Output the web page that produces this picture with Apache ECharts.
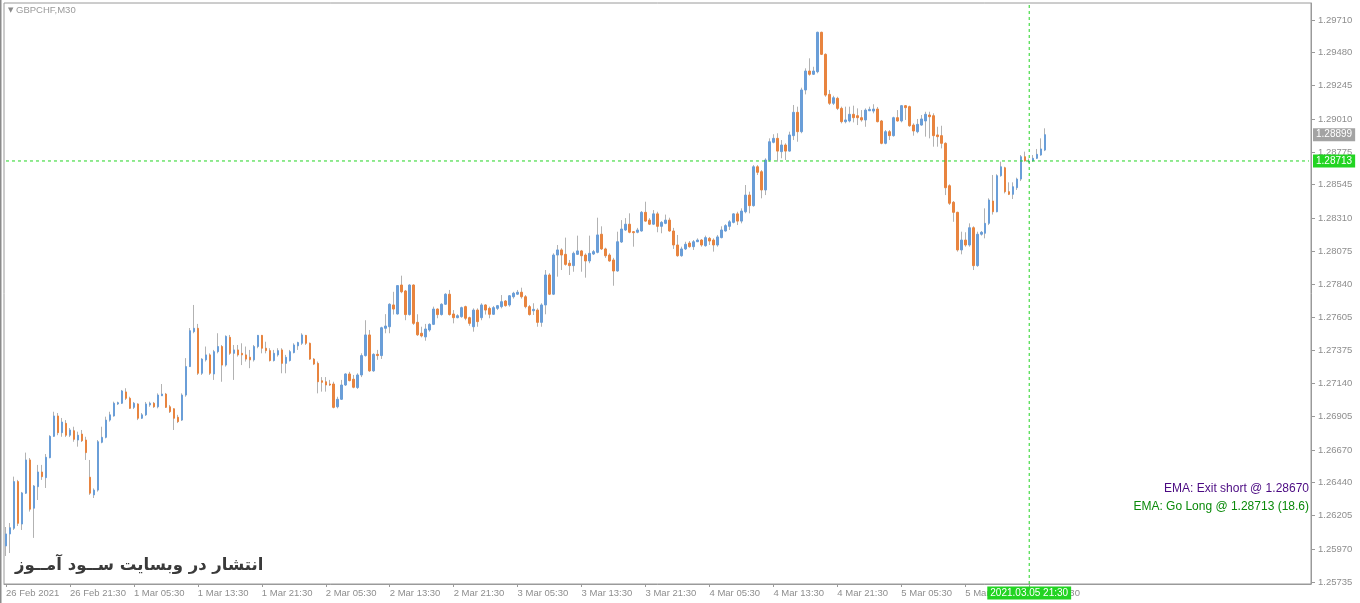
<!DOCTYPE html>
<html><head><meta charset="utf-8">
<script src="https://cdn.jsdelivr.net/npm/echarts@6/dist/echarts.min.js"></script>
<style>html,body{margin:0;padding:0;background:#fff}#c{width:1360px;height:603px}</style>
</head><body><div id="c"></div>
<script>
const symbolName = 'GBPCHF,M30';
const xTickLabels = ['26 Feb 2021','26 Feb 21:30','1 Mar 05:30','1 Mar 13:30','1 Mar 21:30','2 Mar 05:30','2 Mar 13:30','2 Mar 21:30','3 Mar 05:30','3 Mar 13:30','3 Mar 21:30','4 Mar 05:30','4 Mar 13:30','4 Mar 21:30','5 Mar 05:30','5 Mar 13:30','5 Mar 21:30'];
const barsPerLabel = 16;
const yTicks = [1.25735,1.25970,1.26205,1.26440,1.26670,1.26905,1.27140,1.27375,1.27605,1.27840,1.28075,1.28310,1.28545,1.28775,1.29010,1.29245,1.29480,1.29710];
const yMin = 1.25722, yMax = 1.29830;
const slotCount = 327;
const crossIndex = 256;
const crossPrice = 1.28713;
const crossTime = '2021.03.05 21:30';
const bidPrice = 1.28899;
const emaLines = ['EMA: Exit short @ 1.28670', 'EMA: Go Long @ 1.28713 (18.6)'];
const watermark = 'انتشار در وبسایت ســود آمــوز';
// [open, close, low, high]
const candles = [
[1.25991,1.26076,1.25920,1.26125],[1.26076,1.26120,1.25941,1.26153],[1.26116,1.26446,1.26104,1.26481],[1.26446,1.26151,1.26132,1.26458],
[1.26146,1.26366,1.26104,1.26373],[1.26364,1.26599,1.26359,1.26651],[1.26599,1.26251,1.26234,1.26613],[1.26258,1.26415,1.26048,1.26422],
[1.26410,1.26514,1.26316,1.26564],[1.26514,1.26481,1.26458,1.26564],[1.26474,1.26618,1.26401,1.26641],[1.26615,1.26766,1.26611,1.26774],
[1.26766,1.26910,1.26763,1.26940],[1.26910,1.26792,1.26774,1.26931],[1.26792,1.26867,1.26763,1.26896],[1.26858,1.26774,1.26761,1.26881],
[1.26774,1.26811,1.26761,1.26825],[1.26806,1.26745,1.26728,1.26834],[1.26740,1.26774,1.26693,1.26799],[1.26782,1.26735,1.26726,1.26811],
[1.26740,1.26651,1.26599,1.26763],[1.26477,1.26364,1.26352,1.26599],[1.26352,1.26386,1.26330,1.26398],[1.26386,1.26728,1.26375,1.26740],
[1.26724,1.26759,1.26717,1.26834],[1.26759,1.26881,1.26752,1.26905],[1.26881,1.26918,1.26870,1.26940],[1.26910,1.27000,1.26905,1.27011],
[1.26995,1.27004,1.26988,1.27011],[1.27000,1.27087,1.26995,1.27094],[1.27080,1.27035,1.27023,1.27106],[1.27035,1.26964,1.26961,1.27046],
[1.26971,1.27000,1.26959,1.27009],[1.26995,1.26894,1.26881,1.27000],[1.26894,1.26918,1.26889,1.26931],[1.26918,1.26995,1.26910,1.27009],
[1.26988,1.27000,1.26975,1.27011],[1.27000,1.26975,1.26967,1.27009],[1.26975,1.27058,1.26964,1.27070],[1.27053,1.27065,1.27051,1.27136],
[1.27065,1.26971,1.26967,1.27073],[1.26975,1.26940,1.26931,1.26988],[1.26961,1.26894,1.26811,1.26964],[1.26901,1.26870,1.26860,1.26918],
[1.26881,1.27058,1.26875,1.27070],[1.27058,1.27259,1.27046,1.27319],[1.27259,1.27513,1.27257,1.27532],[1.27506,1.27530,1.27495,1.27695],
[1.27530,1.27212,1.27200,1.27561],[1.27212,1.27312,1.27200,1.27319],[1.27307,1.27342,1.27295,1.27401],[1.27342,1.27212,1.27200,1.27353],
[1.27207,1.27365,1.27165,1.27377],[1.27365,1.27401,1.27353,1.27495],[1.27401,1.27270,1.27152,1.27412],[1.27270,1.27473,1.27259,1.27480],
[1.27466,1.27353,1.27342,1.27483],[1.27353,1.27377,1.27165,1.27412],[1.27377,1.27342,1.27330,1.27412],[1.27353,1.27342,1.27270,1.27424],
[1.27342,1.27312,1.27295,1.27401],[1.27325,1.27307,1.27248,1.27377],[1.27307,1.27401,1.27295,1.27412],[1.27401,1.27480,1.27389,1.27483],
[1.27480,1.27389,1.27353,1.27483],[1.27389,1.27372,1.27353,1.27435],[1.27372,1.27302,1.27295,1.27389],[1.27302,1.27353,1.27295,1.27377],
[1.27342,1.27372,1.27330,1.27389],[1.27377,1.27282,1.27212,1.27389],[1.27282,1.27325,1.27212,1.27342],[1.27302,1.27365,1.27295,1.27377],
[1.27358,1.27412,1.27353,1.27424],[1.27406,1.27429,1.27377,1.27435],[1.27424,1.27483,1.27412,1.27495],[1.27480,1.27424,1.27412,1.27483],
[1.27424,1.27312,1.27307,1.27429],[1.27312,1.27277,1.27270,1.27319],[1.27282,1.27152,1.27070,1.27295],[1.27159,1.27148,1.27082,1.27185],
[1.27152,1.27129,1.27082,1.27185],[1.27136,1.27129,1.27122,1.27165],[1.27136,1.26971,1.26964,1.27152],[1.26975,1.27028,1.26964,1.27046],
[1.27028,1.27129,1.27023,1.27165],[1.27129,1.27207,1.27122,1.27212],[1.27207,1.27160,1.27155,1.27222],[1.27170,1.27113,1.27106,1.27200],
[1.27111,1.27200,1.27101,1.27212],[1.27200,1.27337,1.27185,1.27353],[1.27337,1.27483,1.27330,1.27587],[1.27483,1.27229,1.27222,1.27518],
[1.27229,1.27346,1.27222,1.27353],[1.27346,1.27337,1.27307,1.27377],[1.27337,1.27534,1.27313,1.27541],[1.27530,1.27546,1.27495,1.27630],
[1.27541,1.27700,1.27495,1.27707],[1.27695,1.27666,1.27627,1.27788],[1.27631,1.27832,1.27627,1.27836],[1.27836,1.27788,1.27778,1.27902],
[1.27794,1.27627,1.27587,1.27801],[1.27627,1.27836,1.27620,1.27841],[1.27836,1.27565,1.27554,1.27841],[1.27572,1.27484,1.27476,1.27629],
[1.27495,1.27476,1.27466,1.27541],[1.27469,1.27525,1.27442,1.27561],[1.27518,1.27558,1.27506,1.27565],[1.27558,1.27666,1.27553,1.27683],
[1.27666,1.27627,1.27601,1.27671],[1.27627,1.27700,1.27620,1.27707],[1.27700,1.27771,1.27695,1.27778],[1.27771,1.27627,1.27620,1.27801],
[1.27631,1.27605,1.27565,1.27659],[1.27605,1.27619,1.27601,1.27629],[1.27612,1.27676,1.27605,1.27683],[1.27683,1.27601,1.27587,1.27690],
[1.27605,1.27565,1.27548,1.27612],[1.27541,1.27659,1.27506,1.27671],[1.27659,1.27577,1.27541,1.27671],[1.27605,1.27695,1.27587,1.27707],
[1.27695,1.27659,1.27627,1.27700],[1.27671,1.27629,1.27601,1.27683],[1.27629,1.27676,1.27624,1.27688],[1.27671,1.27690,1.27659,1.27695],
[1.27683,1.27718,1.27671,1.27765],[1.27723,1.27690,1.27683,1.27730],[1.27695,1.27760,1.27683,1.27765],[1.27753,1.27778,1.27740,1.27788],
[1.27771,1.27785,1.27765,1.27801],[1.27785,1.27753,1.27740,1.27817],[1.27753,1.27683,1.27671,1.27765],[1.27683,1.27627,1.27620,1.27695],
[1.27654,1.27664,1.27624,1.27707],[1.27659,1.27572,1.27541,1.27671],[1.27572,1.27695,1.27541,1.27707],[1.27695,1.27907,1.27629,1.27942],
[1.27907,1.27771,1.27765,1.27919],[1.27771,1.28048,1.27765,1.28060],[1.28048,1.28084,1.27895,1.28119],[1.28084,1.28048,1.27942,1.28096],
[1.28053,1.27982,1.27973,1.28171],[1.27990,1.27973,1.27907,1.28013],[1.27973,1.28060,1.27930,1.28072],[1.28053,1.28077,1.28048,1.28185],
[1.28077,1.28043,1.27930,1.28084],[1.28048,1.28006,1.27888,1.28060],[1.28006,1.28060,1.27990,1.28185],[1.28055,1.28072,1.28048,1.28084],
[1.28067,1.28190,1.28060,1.28312],[1.28195,1.28091,1.28084,1.28251],[1.28091,1.28043,1.28028,1.28100],[1.28048,1.28006,1.28001,1.28060],
[1.28013,1.27935,1.27831,1.28028],[1.27935,1.28142,1.27930,1.28213],[1.28140,1.28232,1.28133,1.28295],[1.28225,1.28266,1.28218,1.28309],
[1.28266,1.28209,1.28202,1.28343],[1.28213,1.28206,1.28107,1.28218],[1.28209,1.28225,1.28202,1.28240],[1.28218,1.28350,1.28213,1.28359],
[1.28350,1.28288,1.28283,1.28425],[1.28295,1.28266,1.28260,1.28309],[1.28266,1.28339,1.28260,1.28366],[1.28339,1.28251,1.28209,1.28354],
[1.28251,1.28279,1.28202,1.28288],[1.28272,1.28295,1.28266,1.28334],[1.28295,1.28218,1.28213,1.28312],[1.28218,1.28119,1.28091,1.28240],
[1.28119,1.28043,1.28036,1.28190],[1.28043,1.28091,1.28036,1.28107],[1.28091,1.28124,1.28084,1.28142],[1.28133,1.28107,1.28100,1.28147],
[1.28107,1.28142,1.28084,1.28154],[1.28142,1.28154,1.28140,1.28166],[1.28154,1.28119,1.28107,1.28161],[1.28114,1.28171,1.28107,1.28185],
[1.28166,1.28147,1.28119,1.28176],[1.28154,1.28119,1.28072,1.28166],[1.28119,1.28176,1.28107,1.28190],[1.28171,1.28225,1.28166,1.28251],
[1.28218,1.28256,1.28213,1.28266],[1.28251,1.28283,1.28225,1.28295],[1.28279,1.28339,1.28272,1.28343],[1.28339,1.28288,1.28260,1.28354],
[1.28288,1.28359,1.28272,1.28378],[1.28354,1.28472,1.28343,1.28543],[1.28472,1.28397,1.28343,1.28496],[1.28397,1.28672,1.28390,1.28684],
[1.28672,1.28633,1.28614,1.28684],[1.28637,1.28508,1.28449,1.28649],[1.28508,1.28720,1.28472,1.28732],[1.28720,1.28849,1.28708,1.28873],
[1.28845,1.28873,1.28838,1.28902],[1.28873,1.28783,1.28708,1.28909],[1.28779,1.28826,1.28732,1.28861],[1.28826,1.28783,1.28720,1.28838],
[1.28783,1.28897,1.28779,1.28920],[1.28892,1.29057,1.28861,1.29109],[1.29057,1.28920,1.28849,1.29097],[1.28920,1.29215,1.28909,1.29231],
[1.29215,1.29349,1.29184,1.29368],[1.29349,1.29326,1.29316,1.29439],[1.29326,1.29349,1.29321,1.29379],[1.29344,1.29623,1.29333,1.29627],
[1.29623,1.29467,1.29462,1.29627],[1.29467,1.29179,1.29167,1.29474],[1.29184,1.29121,1.29109,1.29215],[1.29121,1.29160,1.29109,1.29174],
[1.29156,1.29085,1.29073,1.29167],[1.29085,1.28991,1.28979,1.29097],[1.28991,1.29003,1.28979,1.29097],[1.28996,1.29043,1.28986,1.29097],
[1.29043,1.29019,1.28986,1.29104],[1.29033,1.29019,1.28967,1.29085],[1.29019,1.29003,1.28991,1.29073],[1.29003,1.29073,1.28955,1.29085],
[1.29068,1.29078,1.29066,1.29097],[1.29066,1.29080,1.29050,1.29114],[1.29080,1.28991,1.28986,1.29095],[1.28996,1.28838,1.28831,1.29003],
[1.28838,1.28920,1.28831,1.28932],[1.28920,1.28892,1.28861,1.28932],[1.28892,1.29019,1.28885,1.29026],[1.29019,1.28996,1.28991,1.29073],
[1.28996,1.29104,1.28986,1.29109],[1.29104,1.29090,1.29003,1.29109],[1.29097,1.28962,1.28955,1.29104],[1.28967,1.28925,1.28892,1.28979],
[1.28920,1.28972,1.28909,1.29010],[1.28967,1.29010,1.28962,1.29038],[1.28996,1.29043,1.28885,1.29061],[1.29038,1.29026,1.28873,1.29061],
[1.29033,1.28892,1.28814,1.29050],[1.28897,1.28885,1.28814,1.28955],[1.28892,1.28838,1.28802,1.28962],[1.28838,1.28524,1.28472,1.28845],
[1.28538,1.28414,1.28402,1.28548],[1.28421,1.28350,1.28283,1.28430],[1.28350,1.28084,1.28072,1.28354],[1.28084,1.28154,1.28053,1.28213],
[1.28154,1.28119,1.28107,1.28209],[1.28119,1.28241,1.28107,1.28272],[1.28241,1.27973,1.27942,1.28251],[1.27973,1.28195,1.27965,1.28213],
[1.28195,1.28209,1.28185,1.28218],[1.28202,1.28272,1.28166,1.28378],[1.28272,1.28437,1.28260,1.28449],[1.28430,1.28354,1.28334,1.28614],
[1.28354,1.28609,1.28350,1.28619],[1.28609,1.28672,1.28602,1.28708],[1.28665,1.28496,1.28484,1.28672],[1.28496,1.28477,1.28472,1.28562],
[1.28477,1.28531,1.28444,1.28562],[1.28524,1.28585,1.28508,1.28595],[1.28585,1.28743,1.28571,1.28755],[1.28743,1.28713,1.28708,1.28779],
[1.28708,1.28713,1.28700,1.28730],[1.28713,1.28732,1.28708,1.28755],[1.28732,1.28760,1.28727,1.28798],[1.28755,1.28798,1.28750,1.28873],
[1.28790,1.28899,1.28783,1.28944]
];

const UP = '#6a9ed8', DOWN = '#e8843f', WICK = '#b2b2b2', AXIS = '#9a9a9a', LABEL = '#8e8e8e', CROSS = '#22d422';
const categories = Array.from({length: slotCount}, (_, i) => String(i));
const bodies = candles.map(([o, c]) => [o, c, Math.min(o, c), Math.max(o, c)]);

const chart = echarts.init(document.getElementById('c'), null, {renderer: 'canvas'});
chart.setOption({
  animation: false,
  backgroundColor: '#fff',
  grid: {left: 4, right: 49, top: 3, bottom: 19, show: true, borderColor: AXIS, borderWidth: 1, backgroundColor: 'transparent'},
  xAxis: {
    type: 'category', data: categories, boundaryGap: true,
    axisLine: {show: true, lineStyle: {color: AXIS}},
    axisTick: {show: true, alignWithLabel: true, length: 3, lineStyle: {color: AXIS},
      interval: (i) => i % barsPerLabel === 0 && i / barsPerLabel < xTickLabels.length},
    axisLabel: {interval: barsPerLabel - 1, align: 'left', margin: 4, color: LABEL, fontSize: 9.5,
      fontFamily: 'Liberation Sans',
      formatter: (v, i) => (i % barsPerLabel === 0 && xTickLabels[i / barsPerLabel]) ? xTickLabels[i / barsPerLabel] : ''},
    splitLine: {show: false}
  },
  yAxis: {
    type: 'value', position: 'right', min: yMin, max: yMax, scale: true,
    axisLine: {show: true, lineStyle: {color: AXIS}},
    axisTick: {show: true, length: 4, customValues: yTicks, lineStyle: {color: AXIS}},
    axisLabel: {customValues: yTicks, margin: 7, color: LABEL, fontSize: 9.5, fontFamily: 'Liberation Sans',
      formatter: (v) => Number(v).toFixed(5)},
    splitLine: {show: false}
  },
  series: [
    {
      name: 'wicks', type: 'candlestick', data: candles, barWidth: 1,
      itemStyle: {color: WICK, color0: WICK, borderColor: WICK, borderColor0: WICK, borderWidth: 1},
      z: 2
    },
    {
      name: symbolName, type: 'candlestick', data: bodies, barWidth: 2,
      itemStyle: {color: UP, color0: DOWN, borderColor: UP, borderColor0: DOWN, borderWidth: 1},
      z: 3
    },
    {
      name: 'crossH', type: 'line', symbol: 'none', silent: true, z: 5, clip: false,
      data: [[0, crossPrice], [slotCount - 1, crossPrice]],
      lineStyle: {color: CROSS, type: [3, 3], width: 1}
    },
    {
      name: 'crossV', type: 'line', symbol: 'none', silent: true, z: 5,
      data: [[crossIndex, yMin], [crossIndex, yMax]],
      lineStyle: {color: CROSS, type: [3, 3], width: 1}
    }
  ]
});

// price / time tags placed through the library's own coordinate conversion
const pPrice = chart.convertToPixel({xAxisIndex: 0, yAxisIndex: 0}, [crossIndex, crossPrice]);
const pBid = chart.convertToPixel({xAxisIndex: 0, yAxisIndex: 0}, [crossIndex, bidPrice]);
const pBottom = chart.convertToPixel({xAxisIndex: 0, yAxisIndex: 0}, [crossIndex, yMin]);
const tagX = 1360 - 49 + 2;
const tag = (text, bg, x, y, align) => ({type: 'text', x: x, y: y, z: 100, style: {
  text: text, fill: '#fff', backgroundColor: bg, padding: [2, 3, 1, 3], align: align, verticalAlign: 'middle',
  font: '10px "Liberation Sans"'}});

chart.setOption({
  graphic: [
    {type: 'rect', left: 0, top: 0, shape: {width: 1.5, height: 603}, style: {fill: '#8a8a8a'}},
    {type: 'text', left: 8, top: 5, style: {
      text: '{t|▼} ' + symbolName,
      rich: {t: {fontSize: 7, fontFamily: 'DejaVu Sans', fill: '#8a8a8a'}},
      fontSize: 9.5, fontFamily: 'Liberation Sans', fill: '#9a9a9a'}},
    {type: 'text', left: 15, top: 557, style: {text: watermark, font: 'bold 16.5px "DejaVu Sans"', fill: '#3a3a3a'}},
    {type: 'text', right: 51, top: 483, style: {text: emaLines[0], font: '12px "Liberation Sans"', fill: '#4b0a82'}},
    {type: 'text', right: 51, top: 501, style: {text: emaLines[1], font: '12px "Liberation Sans"', fill: '#0a8a0a'}},
    tag(bidPrice.toFixed(5), '#a3a3a3', tagX, pBid[1], 'left'),
    tag(crossPrice.toFixed(5), CROSS, tagX, pPrice[1], 'left'),
    tag(crossTime, CROSS, pBottom[0], pBottom[1] + 9, 'center')
  ]
});
</script>
</body></html>
